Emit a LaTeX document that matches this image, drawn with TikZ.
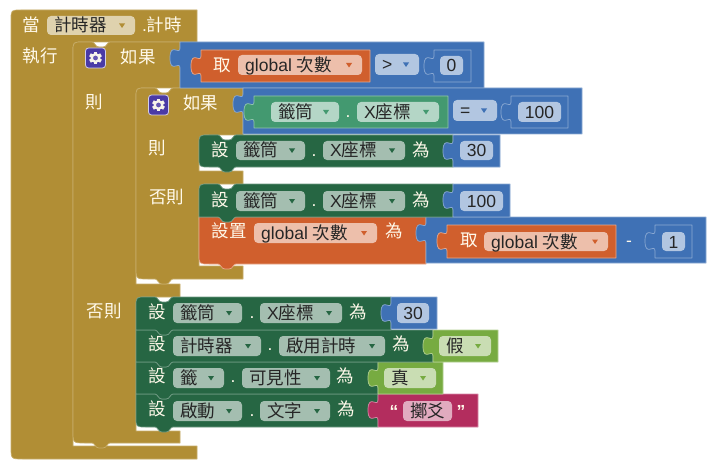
\documentclass[tikz,border=0pt]{standalone}
\usepackage{fontspec}
\setmainfont{Noto Sans CJK TC}
\newfontfamily\lat{Liberation Sans}
\definecolor{ctl}{HTML}{B18E35}
\definecolor{ctlhi}{HTML}{C7AD69}
\definecolor{mth}{HTML}{3F71B5}
\definecolor{mthhi}{HTML}{8CAAD3}
\definecolor{var}{HTML}{D05F2D}
\definecolor{varhi}{HTML}{E8A98C}
\definecolor{setr}{HTML}{266643}
\definecolor{setrhi}{HTML}{6F9A83}
\definecolor{getr}{HTML}{439970}
\definecolor{getrhi}{HTML}{93C6AE}
\definecolor{lgc}{HTML}{77AB41}
\definecolor{lgchi}{HTML}{B4D091}
\definecolor{txtb}{HTML}{B32D5E}
\definecolor{txtbhi}{HTML}{D98AA8}
\definecolor{ffctl}{HTML}{DFD2AE}
\definecolor{ffset}{HTML}{A4BEB0}
\definecolor{ffvar}{HTML}{EDBFAB}
\definecolor{ffmth}{HTML}{B2C6E1}
\definecolor{ffget}{HTML}{B4D6C6}
\definecolor{fflgc}{HTML}{C9DDB3}
\definecolor{fftxt}{HTML}{E1ABBF}
\definecolor{lblc}{HTML}{FFF9EA}
\definecolor{gearbg}{HTML}{4A3AA6}
\tikzset{
  lbl/.style={text=lblc,font=\fontsize{17.5}{20}\selectfont,inner sep=0pt,text height=16pt,text depth=3pt},
  fieldtxt/.style={text=black!85,font=\fontsize{17.5}{20}\selectfont,inner sep=0pt,text height=16pt,text depth=3pt},
  fieldbox/.style={rounded corners=4pt,inner sep=0pt,draw=none},
  bevel/.style={line width=0.7pt,line join=round},
}
% left value tab, walked upwards from y+26 to y+6 on edge x
\newcommand{\vtab}[2]{-- (#1,#2+26) .. controls (#1,#2+18) and (#1-10,#2+32.4) .. (#1-10,#2+16) .. controls (#1-10,#2-0.4) and (#1,#2+14) .. (#1,#2+6)}
% statement notch, walked left to right from x+19 to x+37 (top) at height y
\newcommand{\ntop}[2]{-- (#1+19,#2) .. controls (#1+22,#2) and (#1+22,#2+5) .. (#1+26,#2+5) -- (#1+30,#2+5) .. controls (#1+34,#2+5) and (#1+34,#2) .. (#1+37,#2)}
% same, walked right to left
\newcommand{\nbot}[2]{-- (#1+37,#2) .. controls (#1+34,#2) and (#1+34,#2+5) .. (#1+30,#2+5) -- (#1+26,#2+5) .. controls (#1+22,#2+5) and (#1+22,#2) .. (#1+19,#2)}
% value block: x1 x2 y1 y2 fill edge
\newcommand{\valb}[6]{\draw[fill=#5,draw=#6,bevel] (#1,#3) -- (#2,#3) -- (#2,#4) -- (#1,#4) \vtab{#1}{#3} -- cycle;}
% statement block: x1 x2 y1 y2 fill edge rtop rbot
\newcommand{\stmtb}[8]{\draw[fill=#5,draw=#6,bevel] (#1,#3+#7) .. controls (#1,#3) and (#1,#3) .. (#1+#7,#3) \ntop{#1}{#3} -- (#2,#3) -- (#2,#4) \nbot{#1}{#4} -- (#1+#8,#4) .. controls (#1,#4) and (#1,#4) .. (#1,#4-#8) -- cycle;}
% dropdown: name x1 x2 y1 y2 text fill tri
\newcommand{\ddown}[8]{%
  \node[fieldbox,fill=#7,minimum width={(#3-#2)*1pt},minimum height={(#5-#4)*1pt}] (#1) at ({(#2+#3)/2},{(#4+#5)/2}) {};
  \node[fieldtxt,anchor=west] (#1-t) at (#2+7,{(#4+#5)/2}) {#6};
  \fill[#8] (#3-16,{(#4+#5)/2-2}) -- (#3-10,{(#4+#5)/2-2}) -- (#3-13,{(#4+#5)/2+2.5}) -- cycle;}
% plain field: name x1 x2 y1 y2 text fill
\newcommand{\tfield}[7]{%
  \node[fieldbox,fill=#7,minimum width={(#3-#2)*1pt},minimum height={(#5-#4)*1pt}] (#1) at ({(#2+#3)/2},{(#4+#5)/2}) {};
  \node[fieldtxt] (#1-t) at (#1.center) {#6};}
% gear icon
\newcommand{\gearicon}[3]{%
  \node[rounded corners=3pt,fill=gearbg,draw=white!75!gearbg,line width=0.8pt,minimum size=20pt,inner sep=0pt] (#1) at (#2,#3) {};
  \foreach \a in {0,60,...,300} {\fill[white!90!ctl,rotate around={\a:(#2,#3)}] (#2-1.7,#3-6.4) rectangle (#2+1.7,#3);}
  \fill[white!90!ctl] (#2,#3) circle (5);
  \fill[gearbg!85!white] (#2,#3) circle (2.4);}
\begin{document}
\begin{tikzpicture}[x=1pt,y=-1pt]
\useasboundingbox (0,0) rectangle (720,468);
\fill[white] (0,0) rectangle (720,468);
% event block
\draw[fill=ctl,draw=ctlhi,bevel] (11,20) .. controls (11,10) and (11,10) .. (21,10) -- (197,10) -- (197,42) -- (83,42) .. controls (73,42) and (73,42) .. (73,52) -- (73,446) -- (197,446) -- (197,459) -- (23,459) .. controls (11,459) and (11,459) .. (11,447) -- cycle;
% outer if
\draw[fill=ctl,draw=ctlhi,bevel] (73,52) .. controls (73,42) and (73,42) .. (83,42) \ntop{73}{42} -- (180,42) -- (180,88) -- (146,88) .. controls (136,88) and (136,88) .. (136,98) -- (136,284) -- (180,284) -- (180,297) -- (146,297) .. controls (136,297) and (136,297) .. (136,307) -- (136,431) -- (180,431) -- (180,443) \nbot{73}{443} -- (85,443) .. controls (73,443) and (73,443) .. (73,431) -- cycle;
% inner if
\draw[fill=ctl,draw=ctlhi,bevel] (136,98) .. controls (136,88) and (136,88) .. (146,88) \ntop{136}{88} -- (243,88) -- (243,135) -- (209,135) .. controls (199,135) and (199,135) .. (199,145) -- (199,171) -- (243,171) -- (243,184) -- (209,184) .. controls (199,184) and (199,184) .. (199,194) -- (199,266) -- (243,266) -- (243,279) \nbot{136}{279} -- (148,279) .. controls (136,279) and (136,279) .. (136,267) -- cycle;
% outer if condition
\valb{180}{484}{42}{88}{mth}{mthhi}
\valb{201}{370}{50}{82}{var}{varhi}
\valb{434}{471}{50}{82}{mth}{mthhi}
% inner if condition
\valb{243}{582}{88}{134}{mth}{mthhi}
\valb{254}{448}{96}{128}{getr}{getrhi}
\valb{511}{568}{96}{128}{mth}{mthhi}
% inner then / else statements
\stmtb{199}{453}{135}{167}{setr}{setrhi}{10}{10}
\valb{453}{500}{135}{167}{mth}{mthhi}
\stmtb{199}{426}{217}{264}{var}{varhi}{0}{10}
\valb{426}{706}{217}{263}{mth}{mthhi}
\valb{447}{616}{225}{258}{var}{varhi}
\valb{655}{692}{225}{258}{mth}{mthhi}
\stmtb{199}{453}{184}{217}{setr}{setrhi}{10}{0}
\valb{453}{510}{184}{217}{mth}{mthhi}
% outer else statements
\stmtb{136}{378}{394}{427}{setr}{setrhi}{0}{10}
\valb{378}{478}{394}{427}{txtb}{txtbhi}
\stmtb{136}{378}{362}{394}{setr}{setrhi}{0}{0}
\valb{378}{443}{362}{394}{lgc}{lgchi}
\stmtb{136}{433}{330}{362}{setr}{setrhi}{0}{0}
\valb{433}{498}{330}{362}{lgc}{lgchi}
\stmtb{136}{391}{297}{330}{setr}{setrhi}{10}{0}
\valb{391}{437}{297}{329}{mth}{mthhi}
% event labels
\node[lbl] (ldang) at (31,25) {當};
\ddown{ftimer}{47}{135}{16}{35}{計時器}{ffctl}{ctl}
\node[lbl] (levt) at (162,25) {{\lat .}計時};
\node[lbl] (ldo) at (40.5,56) {執行};
% outer if labels
\gearicon{gearA}{95.5}{58}
\node[lbl] (lif1) at (138,57) {如果};
\node[lbl] (lthen1) at (94.5,102) {則};
\node[lbl] (lelse1) at (104,311) {否則};
\node[lbl] (lget1) at (222,65) {取};
\ddown{fget1}{238}{362}{55}{75}{{\lat global }次數}{ffvar}{var}
\ddown{fgt}{375}{419}{54}{75}{{\lat >}}{ffmth}{mth}
\tfield{fzero}{440}{463}{56}{75}{{\lat 0}}{ffmth}
% inner if labels
\gearicon{gearB}{158.5}{105}
\node[lbl] (lif2) at (200.5,103) {如果};
\node[lbl] (lthen2) at (157,148) {則};
\node[lbl] (lelse2) at (166.5,197) {否則};
\ddown{ftube0}{271}{339}{102}{122}{籤筒}{ffget}{getr}
\node[lbl] (ldot0) at (348,111) {{\lat .}};
\ddown{fx0}{357}{439}{102}{122}{{\lat X}座標}{ffget}{getr}
\ddown{feq}{453}{497}{100}{121}{{\lat =}}{ffmth}{mth}
\tfield{fhund0}{518}{561}{102}{122}{{\lat 100}}{ffmth}
% then statement
\node[lbl] (lset1) at (220,150) {設};
\ddown{ftube1}{236}{305}{141}{160}{籤筒}{ffset}{setr}
\node[lbl] (ldot1) at (314,150) {{\lat .}};
\ddown{fx1}{323}{405}{141}{160}{{\lat X}座標}{ffset}{setr}
\node[lbl] (lfor1) at (421,150) {為};
\tfield{fthirty1}{460}{493}{141}{160}{{\lat 30}}{ffmth}
% else statement
\node[lbl] (lset2) at (220,200) {設};
\ddown{ftube2}{236}{305}{191}{211}{籤筒}{ffset}{setr}
\node[lbl] (ldot2) at (314,200) {{\lat .}};
\ddown{fx2}{323}{405}{191}{211}{{\lat X}座標}{ffset}{setr}
\node[lbl] (lfor2) at (421,200) {為};
\tfield{fhund1}{460}{503}{191}{211}{{\lat 100}}{ffmth}
% set global
\node[lbl] (lset3) at (229,231) {設置};
\ddown{fg2}{254}{377}{223}{243}{{\lat global }次數}{ffvar}{var}
\node[lbl] (lfor3) at (394,231) {為};
\node[lbl] (lget2) at (469,240) {取};
\ddown{fg3}{484}{608}{232}{251}{{\lat global }次數}{ffvar}{var}
\node[lbl] (lminus) at (629,240) {{\lat -}};
\tfield{fone}{662}{685}{232}{251}{{\lat 1}}{ffmth}
% row 1
\node[lbl] (lr1) at (157,312) {設};
\ddown{fr1a}{173}{242}{303}{323}{籤筒}{ffset}{setr}
\node[lbl] (ld1) at (252,312) {{\lat .}};
\ddown{fr1b}{260}{342}{303}{323}{{\lat X}座標}{ffset}{setr}
\node[lbl] (lf1) at (358,312) {為};
\tfield{fr1c}{397}{429}{303}{323}{{\lat 30}}{ffmth}
% row 2
\node[lbl] (lr2) at (157,344) {設};
\ddown{fr2a}{173}{261}{336}{356}{計時器}{ffset}{setr}
\node[lbl] (ld2) at (270,344) {{\lat .}};
\ddown{fr2b}{279}{385}{336}{356}{啟用計時}{ffset}{setr}
\node[lbl] (lf2) at (401,344) {為};
\ddown{fr2c}{439}{491}{336}{356}{假}{fflgc}{lgc}
% row 3
\node[lbl] (lr3) at (157,376) {設};
\ddown{fr3a}{173}{224}{368}{388}{籤}{ffset}{setr}
\node[lbl] (ld3) at (233,376) {{\lat .}};
\ddown{fr3b}{242}{330}{368}{388}{可見性}{ffset}{setr}
\node[lbl] (lf3) at (345,376) {為};
\ddown{fr3c}{384}{436}{368}{388}{真}{fflgc}{lgc}
% row 4
\node[lbl] (lr4) at (157,409) {設};
\ddown{fr4a}{173}{242}{401}{421}{啟動}{ffset}{setr}
\node[lbl] (ld4) at (252,410) {{\lat .}};
\ddown{fr4b}{260}{330}{401}{421}{文字}{ffset}{setr}
\node[lbl] (lf4) at (346,409) {為};
\tfield{fr4c}{403}{452}{401}{421}{擲爻}{fftxt}
\node[lbl] (lq1) at (394,410.5) {{\lat\bfseries “}};
\node[lbl] (lq2) at (461,410.5) {{\lat\bfseries ”}};
\end{tikzpicture}
\end{document}
